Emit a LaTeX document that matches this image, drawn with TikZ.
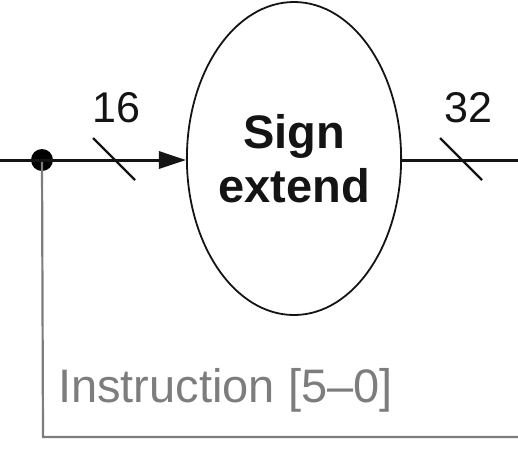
\documentclass[tikz,border=0pt]{standalone}
\usepackage{fontspec}
\setmainfont{Liberation Sans}
\usetikzlibrary{shapes.geometric,arrows.meta}
\definecolor{wire}{RGB}{20,20,20}
\definecolor{ctl}{RGB}{125,125,125}
\begin{document}
\begin{tikzpicture}[x=1pt,y=-1pt,
  bus/.style={draw=wire,line width=3pt},
  ctlwire/.style={draw=ctl,line width=2.2pt},
  tick/.style={draw=wire,line width=2.4pt},
  width/.style={font=\fontsize{43}{48}\selectfont,text=wire,inner sep=0pt,anchor=base},
  unit/.style={draw=wire,line width=1.8pt,ellipse,minimum width=202pt,minimum height=313pt,inner sep=0pt,align=center,
    font=\fontsize{47}{54}\selectfont\bfseries,text=wire}]
\useasboundingbox (0,0) rectangle (518,467);
\node[unit] (E) at (294,158.5) {Sign\\extend};
\coordinate (L) at (0,160);
\coordinate (R) at (518,160);
\node[circle,fill=black,inner sep=0pt,minimum size=22pt] (J) at (42,160) {};
\coordinate (C) at (43,437);
\coordinate (B) at (518,437);
\draw[ctlwire] (J.center) -- (C) -- (B);
\draw[bus] (L) -- (J.center);
\draw[bus,-{Triangle[length=27pt,width=17pt]}] (J.center) -- (J -| E.west);
\draw[bus] (E.east |- R) -- (R);
\coordinate (s1a) at (93,138);
\coordinate (s1b) at (135,180);
\coordinate (s2a) at (440,138);
\coordinate (s2b) at (482,180);
\draw[tick] (s1a) -- (s1b);
\draw[tick] (s2a) -- (s2b);
\node[width] (w16) at (116.5,122) {16};
\node[width] (w32) at (468.5,122) {32};
\node[font=\fontsize{47}{52}\selectfont,text=ctl,inner sep=0pt,anchor=base west] (ins) at (58,402) {Instruction [5–0]};
\end{tikzpicture}
\end{document}
